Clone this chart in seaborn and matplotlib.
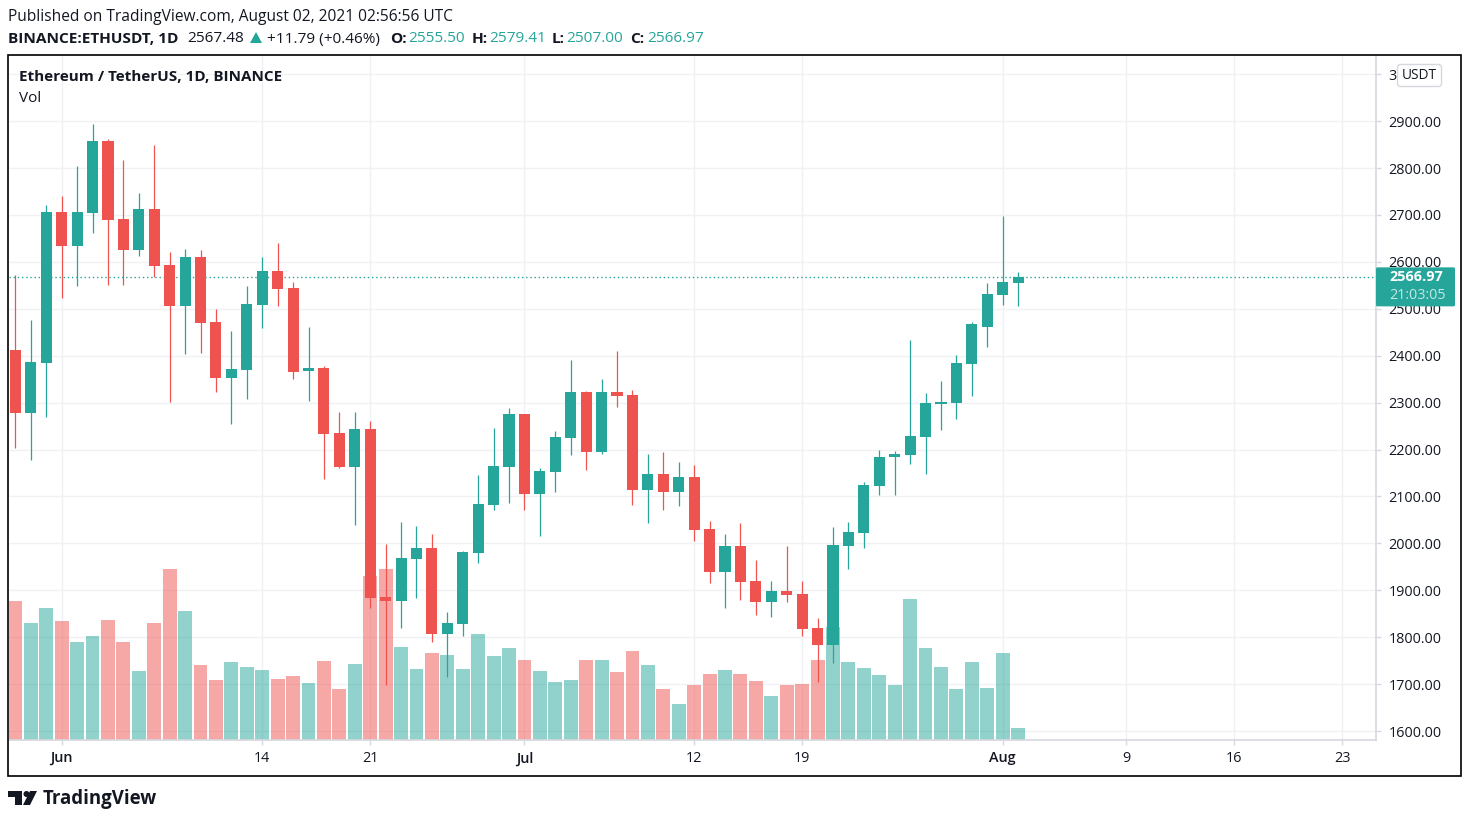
import numpy as np
import pandas as pd
import seaborn as sns
import matplotlib.pyplot as plt
from matplotlib.patches import Rectangle, FancyBboxPatch, Polygon, Circle
from matplotlib.transforms import blended_transform_factory

# daily candles, May 29 - Aug 2 2021
opens = [2412, 2278, 2384, 2706, 2634, 2704, 2857, 2691, 2625, 2713, 2593, 2506, 2610, 2472, 2352, 2370, 2508, 2580, 2544, 2367,
         2374, 2235, 2163, 2244, 1886, 1877, 1967, 1990, 1807, 1828, 1980, 2082, 2163, 2276, 2105, 2152, 2225, 2323, 2195, 2323,
         2316, 2114, 2148, 2110, 2142, 2031, 1939, 1994, 1920, 1875, 1899, 1892, 1820, 1783, 1994, 2022, 2122, 2184, 2188, 2227,
         2297, 2299, 2382, 2461, 2529, 2555]
highs = [2572, 2476, 2721, 2740, 2804, 2894, 2862, 2817, 2747, 2849, 2621, 2627, 2625, 2499, 2453, 2548, 2610, 2640, 2557, 2461,
         2378, 2280, 2280, 2261, 1999, 2046, 2037, 2020, 1854, 1984, 2146, 2246, 2289, 2276, 2161, 2240, 2391, 2325, 2350, 2410,
         2327, 2191, 2195, 2173, 2167, 2048, 2020, 2043, 1965, 1920, 1994, 1920, 1841, 2035, 2046, 2131, 2199, 2197, 2433, 2321,
         2346, 2402, 2472, 2555, 2698, 2578]
lows = [2203, 2178, 2269, 2523, 2548, 2661, 2551, 2551, 2612, 2568, 2301, 2404, 2406, 2323, 2254, 2308, 2459, 2506, 2350, 2303,
        2137, 2161, 2039, 1862, 1698, 1820, 1884, 1790, 1715, 1803, 1958, 2071, 2086, 2071, 2016, 2110, 2188, 2156, 2191, 2291,
        2082, 2043, 2071, 2080, 2005, 1916, 1862, 1879, 1847, 1843, 1875, 1803, 1705, 1745, 1945, 1990, 2103, 2103, 2169, 2148,
        2242, 2265, 2314, 2419, 2508, 2506]
closes = [2278, 2387, 2706, 2634, 2706, 2857, 2689, 2625, 2713, 2591, 2506, 2610, 2470, 2352, 2372, 2510, 2580, 2542, 2365, 2374,
          2233, 2163, 2244, 1884, 1877, 1969, 1990, 1807, 1830, 1982, 2084, 2165, 2276, 2105, 2154, 2227, 2323, 2195, 2323, 2314,
          2114, 2148, 2110, 2142, 2029, 1939, 1994, 1918, 1875, 1899, 1890, 1818, 1783, 1997, 2024, 2124, 2184, 2191, 2229, 2299,
          2301, 2384, 2468, 2531, 2557, 2568]
# volume, arbitrary units
volumes = [139, 117, 132, 119, 98, 104, 120, 98, 69, 117, 171, 129, 75, 60, 78, 73, 70, 61, 64, 57,
           79, 51, 76, 164, 171, 93, 71, 87, 85, 71, 106, 84, 92, 80, 69, 58, 60, 80, 80, 68,
           89, 75, 51, 36, 55, 66, 70, 66, 59, 44, 55, 56, 80, 113, 78, 72, 65, 55, 141, 92,
           73, 51, 78, 52, 87, 12]

tick_dates = ["2021-06-01", "2021-06-14", "2021-06-21", "2021-07-01", "2021-07-12", "2021-07-19",
              "2021-08-01", "2021-08-09", "2021-08-16", "2021-08-23"]
tick_labels = ["Jun", "14", "21", "Jul", "12", "19", "Aug", "9", "16", "23"]
price_ticks = np.arange(1600, 3100, 100)

GREEN = "#26a69a"
RED = "#ef5350"
DARK = "#131722"
GRID = "#f0f1f4"
AXIS = "#d6d8de"

sns.set_style("white")
plt.rcParams['font.family'] = ['Open Sans', 'DejaVu Sans']

start = pd.Timestamp("2021-05-29")
days = pd.date_range(start, periods=len(opens))
day_no = np.arange(len(days))
up = [c >= o for o, c in zip(opens, closes)]
df = pd.DataFrame({"day": day_no, "vol": volumes, "dir": ["up" if u else "down" for u in up]})
tick_pos = [(pd.Timestamp(d) - start).days for d in tick_dates]

W, H = 1470, 822
fig = plt.figure(figsize=(W / 100, H / 100), dpi=100, facecolor="white")
rect = [9 / W, 1 - 740 / H, (1376 - 9) / W, (740 - 56) / H]

# volume axes sits underneath, price axes on top
ax = fig.add_axes(rect)
sns.barplot(data=df, x="day", y="vol", hue="dir", palette={"up": GREEN, "down": RED}, native_scale=True,
            dodge=False, width=0.9, saturation=1, alpha=0.5, linewidth=0, legend=False, ax=ax, zorder=2)
ax.set_xlim(-0.415, 88.2)
ax.set_ylim(0, 684)
ax.set_xlabel("")
ax.set_ylabel("")
ax.set_yticks([])
ax.set_xticks(tick_pos)
ax.set_xticklabels(tick_labels, fontsize=10.4, color=DARK)
for k in [0, 3, 6]:
    ax.get_xticklabels()[k].set_fontweight("semibold")
ax.tick_params(axis="x", length=3.6, width=1, color=AXIS, pad=4.5, bottom=True)
ax.grid(axis="x", color=GRID, lw=1, zorder=0)
ax.set_axisbelow(True)
for s in ["top", "left", "right"]:
    ax.spines[s].set_visible(False)
ax.spines["bottom"].set_color(AXIS)
ax.spines["bottom"].set_linewidth(1.2)

ax2 = ax.twinx()
ax2.set_xlim(ax.get_xlim())
ax2.set_ylim(1581, 3038.7)
ax2.patch.set_alpha(0)
ax2.set_yticks(price_ticks)
price_labels = ["%.2f" % p for p in price_ticks]
price_labels[-1] = "3"  # the rest of this one sits behind the USDT box
ax2.set_yticklabels(price_labels, fontsize=10.4, color=DARK)
ax2.tick_params(axis="y", length=3.6, width=1, color=AXIS, pad=5.5, right=True)
for s in ["top", "left", "bottom"]:
    ax2.spines[s].set_visible(False)
ax2.spines["right"].set_color(AXIS)
ax2.spines["right"].set_linewidth(1.2)

# price gridlines go on the lower axes so they stay behind the volume bars
grid_trans = blended_transform_factory(ax.transAxes, ax2.transData)
for p in price_ticks:
    ax.plot([0, 1], [p, p], transform=grid_trans, color=GRID, lw=1, zorder=1)

colors = [GREEN if u else RED for u in up]
ax2.vlines(day_no, lows, highs, colors=colors, lw=0.9, zorder=3)
ax2.bar(day_no, np.abs(np.array(closes) - np.array(opens)), bottom=np.minimum(opens, closes),
        width=0.72, color=colors, linewidth=0, zorder=4)
ax2.axhline(2566.97, color=GREEN, lw=1, ls=(0, (1, 2)), zorder=2)

# overlay in pixel coordinates for the TradingView furniture
ov = fig.add_axes([0, 0, 1, 1], zorder=10)
ov.set_xlim(0, W)
ov.set_ylim(H, 0)
ov.axis("off")
ov.patch.set_alpha(0)

ov.add_patch(Rectangle((8.5, 55.5), 1453, 720, fill=False, ec="black", lw=1.2))
ov.text(8, 17, "Published on TradingView.com, August 02, 2021 02:56:56 UTC", fontsize=11.2, color=DARK, va="center")
header = [(8, "BINANCE:ETHUSDT, 1D", DARK, "bold"), (187, "2567.48", DARK, "normal"),
          (267, "+11.79 (+0.46%)", DARK, "normal"), (390, "O:", DARK, "bold"), (408, "2555.50", GREEN, "normal"),
          (472, "H:", DARK, "bold"), (489, "2579.41", GREEN, "normal"), (552, "L:", DARK, "bold"),
          (566, "2507.00", GREEN, "normal"), (630, "C:", DARK, "bold"), (647, "2566.97", GREEN, "normal")]
for hx, txt, col, wt in header:
    ov.text(hx, 39, txt, fontsize=11.1, color=col, fontweight=wt, va="center")
ov.add_patch(Polygon([(250, 43), (262, 43), (256, 32)], color=GREEN, lw=0))

ov.text(19, 77, "Ethereum / TetherUS, 1D, BINANCE", fontsize=11, fontweight="bold", color=DARK, va="center")
ov.text(19, 98, "Vol", fontsize=11, color=DARK, va="center")

# unit box
ov.add_patch(FancyBboxPatch((1397.5, 64.5), 44, 22, boxstyle="round,pad=0,rounding_size=3", fc="white", ec=AXIS, lw=1))
ov.text(1419.5, 75.5, "USDT", fontsize=9.8, color=DARK, ha="center", va="center")

# last price tag follows the price scale
tag_y = ov.transData.inverted().transform(ax2.transData.transform((0, 2566.97)))[1]
ov.add_patch(FancyBboxPatch((1376, tag_y - 10), 79, 39, boxstyle="round,pad=0,rounding_size=1.5", fc=GREEN, ec=GREEN, lw=0))
ov.text(1389, tag_y, "2566.97", fontsize=10.4, fontweight="bold", color="white", va="center")
ov.text(1389, tag_y + 18, "21:03:05", fontsize=10.4, color="#c4e8e4", va="center")

# logo
ov.add_patch(Polygon([(8, 791), (22, 791), (22, 805), (15, 805), (15, 797), (8, 797)], color=DARK, lw=0))
ov.add_patch(Circle((26.5, 794), 3, color=DARK, lw=0))
ov.add_patch(Polygon([(30, 791), (37, 791), (30, 805), (23, 805)], color=DARK, lw=0))
ov.text(43, 798.5, "TradingView", fontsize=13.4, fontweight="bold", color=DARK, va="center")

fig.savefig("out.png", dpi=100)
